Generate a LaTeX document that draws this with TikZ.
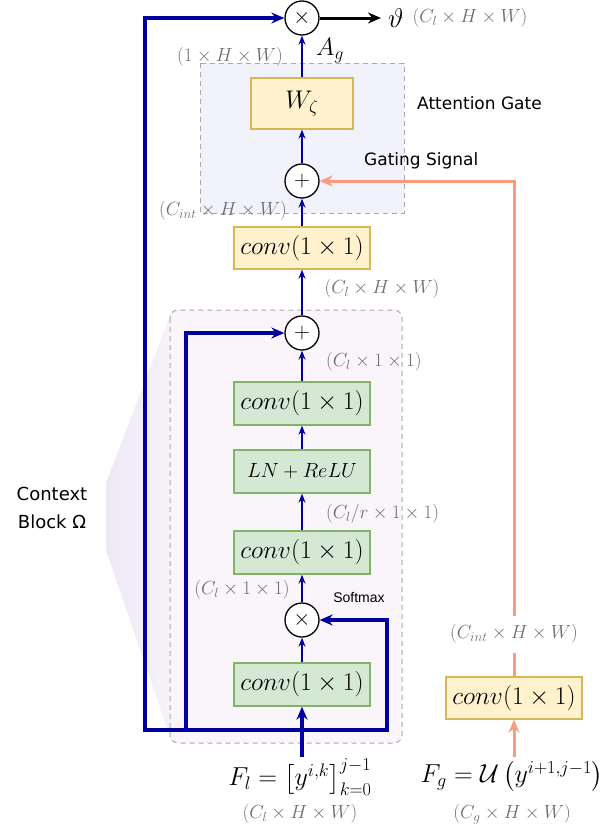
\RequirePackage{fix-cm}
\documentclass[tikz,border=0pt]{standalone}
\usepackage{amsmath}
\usepackage{fontspec}
\newfontfamily\dejavu{DejaVu Sans}
\newfontfamily\libsans{Liberation Sans}
\usetikzlibrary{arrows.meta,calc}
\definecolor{dblue}{RGB}{0,0,160}
\definecolor{salmon}{RGB}{250,155,125}
\definecolor{gfill}{HTML}{D5E8D4}
\definecolor{gdraw}{HTML}{82B366}
\definecolor{yfill}{HTML}{FFF2CC}
\definecolor{ydraw}{HTML}{D6B656}
\definecolor{lbl}{RGB}{110,110,110}
\definecolor{attfill}{HTML}{F2F2FD}
\definecolor{ctxfill}{HTML}{F9F5FA}
\definecolor{shadeL}{HTML}{EEE8F5}
\definecolor{shadeR}{HTML}{F6F3FA}
\definecolor{dashc}{RGB}{170,170,170}
\begin{document}
\begin{tikzpicture}[x=1pt,y=-1pt,
  gbox/.style={draw=gdraw,fill=gfill,line width=1.3pt,minimum width=136pt,minimum height=43pt,inner sep=0pt,font=\fontsize{25.5}{28}\selectfont},
  ybox/.style={draw=ydraw,fill=yfill,line width=1.3pt,minimum width=136pt,minimum height=42pt,inner sep=0pt,font=\fontsize{25.5}{28}\selectfont},
  opc/.style={circle,draw=black,fill=white,line width=1.3pt,minimum size=34pt,inner sep=0pt,font=\fontsize{22}{24}\selectfont},
  dim/.style={text=lbl,inner sep=0pt,font=\fontsize{19}{22}\selectfont},
  mathlbl/.style={inner sep=0pt,font=\fontsize{25}{28}\selectfont},
  tarr/.style={draw=dblue,line width=1.6pt,-{Stealth[length=9pt,width=7pt]}},
  tline/.style={draw=dblue,line width=3.5pt},
  tarrow/.style={tline,-{Stealth[length=13pt,width=11pt]}},
  tboth/.style={tline,{Stealth[length=13pt,width=11pt]}-{Stealth[length=13pt,width=11pt]}},
  sal/.style={draw=salmon,line width=3pt},
  salarrow/.style={sal,-{Stealth[length=13pt,width=11pt]}},
  boxdash/.style={draw=dashc,line width=1pt,dash pattern=on 5pt off 4pt},
]
\useasboundingbox (0,0) rectangle (608,830);
% backgrounds
\shade[left color=shadeL,right color=shadeR] (172,310) -- (106,483) -- (106,550) -- (172,743) -- cycle;
\draw[boxdash,fill=ctxfill,rounded corners=8pt] (170,310) rectangle (402,743);
\draw[boxdash,fill=attfill] (200,63) rectangle (404,213);

% nodes
\node[opc] (mulTop) at (302,18) {$\times$};
\node[ybox,minimum width=102pt,minimum height=51pt] (wz) at (302,103.5) {$W_\zeta$};
\node[opc] (addAtt) at (302,181) {$+$};
\node[ybox] (convY) at (302,248) {$conv(1\times 1)$};
\node[opc] (addCtx) at (302,333) {$+$};
\node[gbox] (c1) at (302,403.5) {$conv(1\times 1)$};
\node[gbox,font=\fontsize{20.5}{24}\selectfont] (ln) at (302,471.5) {$LN+ReLU$};
\node[gbox] (c2) at (302,552.5) {$conv(1\times 1)$};
\node[opc] (mulCtx) at (302,620) {$\times$};
\node[gbox] (c3) at (302,684.5) {$conv(1\times 1)$};
\node[ybox] (convG) at (514,698) {$conv(1\times 1)$};

\node[mathlbl,font=\fontsize{26}{30}\selectfont] (Fl) at (300,777) {$F_l=\left[y^{i,k}\right]^{j-1}_{k=0}$};
\node[mathlbl,font=\fontsize{26}{30}\selectfont] (Fg) at (512,776) {$F_g=\mathcal{U}\left(y^{i+1,j-1}\right)$};
\node[dim] (dFl) at (300,814) {$(C_l\times H\times W)$};
\node[dim] (dFg) at (512,814) {$(C_g\times H\times W)$};
\node[dim] (ci) at (514,634) {$(C_{int}\times H\times W)$};

\node[mathlbl,font=\fontsize{27}{30}\selectfont] (theta) at (396,18) {$\vartheta$};
\node[dim] (dOut) at (470,18) {$(C_l\times H\times W)$};
\node[dim] (d1) at (230,57) {$(1\times H\times W)$};
\node[mathlbl] (Ag) at (330,51) {$A_g$};
\node[dim] (d2) at (223,211) {$(C_{int}\times H\times W)$};
\node[dim] (d3) at (382,289) {$(C_l\times H\times W)$};
\node[dim,anchor=west] (d4) at (326,362) {$(C_l\times 1\times 1)$};
\node[dim,anchor=west] (d5) at (326,514) {$(C_l/r\times 1\times 1)$};
\node[dim] (d6) at (242,590) {$(C_l\times 1\times 1)$};
\node[inner sep=0pt,font=\libsans\fontsize{14}{16}\selectfont] (smax) at (359,597) {Softmax};
\node[anchor=west,inner sep=0pt,font=\dejavu\fontsize{17}{20}\selectfont] (attg) at (417,103) {Attention Gate};
\node[anchor=west,inner sep=0pt,font=\dejavu\fontsize{17}{20}\selectfont] (gsig) at (364,161) {Gating Signal};
\node[align=center,inner sep=0pt,font=\dejavu\fontsize{18}{28}\selectfont] (ctx) at (52,508) {Context\\Block Ω};

% coordinates
\coordinate (bL) at (145,730);
\coordinate (bR) at (387,730);
\coordinate (bI) at (186,731);
\coordinate (inL) at (302,757);
\coordinate (inG) at (514,757);
\coordinate (outE) at (381,18);

% main column
\draw[tarr] (wz) -- (mulTop);
\draw[tarr] (addAtt) -- (wz);
\draw[tarr] (convY) -- (addAtt);
\draw[tarr] (addCtx) -- (convY);
\draw[tarr] (c1) -- (addCtx);
\draw[tarr] (ln) -- (c1);
\draw[tarr] (c2) -- (ln);
\draw[tarr] (mulCtx) -- (c2);
\draw[tarr] (c3) -- (mulCtx);

% skip connections
\draw[tboth] (mulTop) -| (bL) -- (bR) |- (mulCtx);
\draw[tarrow] (bI) |- (addCtx);
\draw[tarrow] (inL) -- (c3);

% output
\draw[line width=3pt,-{Stealth[length=13pt,width=11pt]}] (mulTop) -- (outE);

% gating path
\draw[salarrow] (inG) -- (convG);
\draw[sal,shorten >=9pt] (convG) -- (ci);
\draw[salarrow,shorten <=8pt] (ci) |- (addAtt);
\end{tikzpicture}
\end{document}
